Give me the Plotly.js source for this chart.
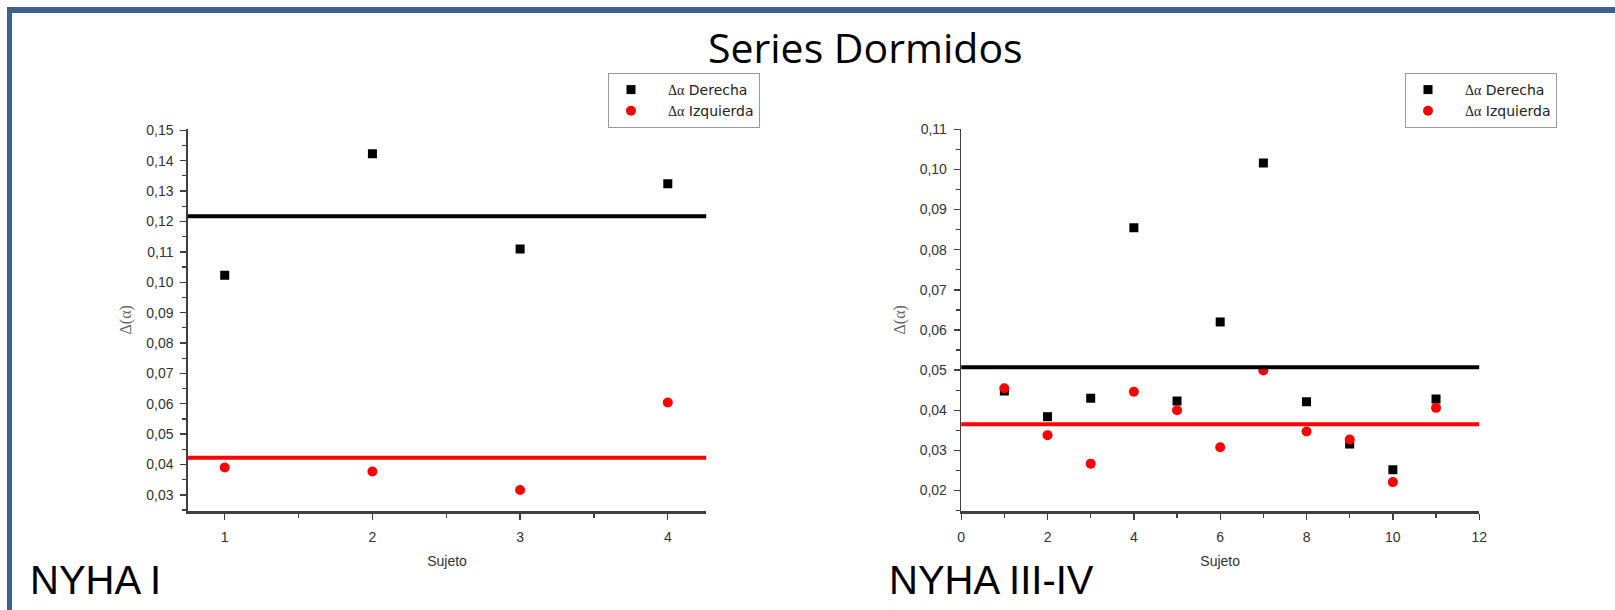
<!DOCTYPE html>
<html>
<head>
<meta charset="utf-8">
<script src="https://cdn.plot.ly/plotly-3.0.1.min.js"></script>
<style>
  html, body { margin: 0; padding: 0; background: #ffffff; }
  #chart { width: 1615px; height: 610px; }
</style>
</head>
<body>
<div id="chart"></div>
<script>
// ---- Data ----
const chartTitle = "Series Dormidos";
const panelLabels = ["NYHA I", "NYHA III-IV"];
const seriesNames = ["Δα Derecha", "Δα Izquierda"];
const xAxisTitle = "Sujeto";
const yAxisTitle = "Δ(α)";

const subjectsI = [1, 2, 3, 4];
const derechaI = [0.1023, 0.1423, 0.1109, 0.1324];
const izquierdaI = [0.0390, 0.0377, 0.0316, 0.0604];
const meanDerechaI = 0.1217;
const meanIzquierdaI = 0.0422;

const subjectsIII = [1, 2, 3, 4, 5, 6, 7, 8, 9, 10, 11];
const derechaIII = [0.0448, 0.0384, 0.0430, 0.0855, 0.0423, 0.0620, 0.1016, 0.0421, 0.0316, 0.0252, 0.0428];
const izquierdaIII = [0.0455, 0.0338, 0.0267, 0.0446, 0.0400, 0.0308, 0.0499, 0.0347, 0.0327, 0.0221, 0.0406];
const meanDerechaIII = 0.0507;
const meanIzquierdaIII = 0.0365;

// ---- Styling ----
const W = 1615, H = 610;
const px = v => v / W;
const py = v => 1 - v / H;
const BLACK = "#000000";
const RED = "#ff0000";
const AXIS = "#404040";
const FRAME = "#3d6191";

function legendName(name) {
  const parts = name.split(" ");
  return '<span style="font-family:\'Liberation Serif\', serif">' + parts[0] + '</span> ' + parts.slice(1).join(" ");
}

const sqMarker = { symbol: "square", size: 9, color: BLACK };
const ciMarker = { symbol: "circle", size: 10, color: RED };

const traces = [
  { x: subjectsI, y: derechaI, type: "scatter", mode: "markers", marker: sqMarker,
    name: legendName(seriesNames[0]), xaxis: "x", yaxis: "y", legend: "legend" },
  { x: subjectsI, y: izquierdaI, type: "scatter", mode: "markers", marker: ciMarker,
    name: legendName(seriesNames[1]), xaxis: "x", yaxis: "y", legend: "legend" },
  { x: subjectsIII, y: derechaIII, type: "scatter", mode: "markers", marker: sqMarker,
    name: legendName(seriesNames[0]), xaxis: "x2", yaxis: "y2", legend: "legend2" },
  { x: subjectsIII, y: izquierdaIII, type: "scatter", mode: "markers", marker: ciMarker,
    name: legendName(seriesNames[1]), xaxis: "x2", yaxis: "y2", legend: "legend2" }
];

const tickFont = { family: "Liberation Sans, Arial, sans-serif", size: 14, color: "#333333" };
const xTitleFont = { family: "Liberation Sans, Arial, sans-serif", size: 14, color: "#333333" };
const yTitleFont = { family: "Liberation Serif, Times New Roman, serif", size: 16, color: "#666666" };

function xAxis(domain, range, dtick, minorDtick, anchor) {
  return {
    domain: domain, range: range, anchor: anchor,
    showgrid: false, zeroline: false, showline: true, linecolor: AXIS, linewidth: 2.5,
    ticks: "outside", ticklen: 6, tickwidth: 1.3, tickcolor: AXIS, dtick: dtick, tick0: 0,
    ticklabelstandoff: 6,
    minor: { ticks: "outside", ticklen: 4, tickwidth: 1.2, tickcolor: AXIS, dtick: minorDtick, tick0: 0 },
    tickfont: tickFont,
    title: { text: xAxisTitle, font: xTitleFont, standoff: 12 }
  };
}
function yAxis(domain, range, anchor) {
  return {
    domain: domain, range: range, anchor: anchor,
    showgrid: false, zeroline: false, showline: true, linecolor: AXIS, linewidth: 1.5,
    ticks: "outside", ticklen: 6, tickwidth: 1.3, tickcolor: AXIS, dtick: 0.01, tick0: 0,
    tickformat: ".2f", ticklabelstandoff: 4,
    minor: { ticks: "outside", ticklen: 4, tickwidth: 1.2, tickcolor: AXIS, dtick: 0.005, tick0: 0 },
    tickfont: tickFont,
    title: { text: yAxisTitle, font: yTitleFont, standoff: 10 }
  };
}

const yDomain = [py(511), py(128.5)];

function meanLine(xref, yref, value, color, width) {
  return { type: "line", xref: xref + " domain", yref: yref, x0: 0, x1: 1, y0: value, y1: value,
           line: { color: color, width: width }, layer: "above" };
}

const legendStyle = {
  bgcolor: "#ffffff", bordercolor: "#9a9a9a", borderwidth: 1,
  font: { family: "DejaVu Sans, Verdana, sans-serif", size: 14, color: "#222222" },
  xanchor: "left", yanchor: "top", indentation: -15, tracegroupgap: 0, itemwidth: 64
};

const layout = {
  width: W, height: H,
  margin: { l: 0, r: 0, t: 0, b: 0 },
  paper_bgcolor: "#ffffff", plot_bgcolor: "#ffffff",
  separators: ", ",
  showlegend: true,
  xaxis: xAxis([px(187.8), px(706.2)], [0.75, 4.26], 1, 0.5, "y"),
  yaxis: yAxis(yDomain, [0.0247, 0.1506], "x"),
  xaxis2: xAxis([px(961.2), px(1479.2)], [0, 12], 2, 1, "y2"),
  yaxis2: yAxis(yDomain, [0.0149, 0.1102], "x2"),
  legend: Object.assign({}, legendStyle, { x: px(608), y: py(73) }),
  legend2: Object.assign({}, legendStyle, { x: px(1405), y: py(73) }),
  shapes: [
    meanLine("x", "y", meanDerechaI, BLACK, 4),
    meanLine("x", "y", meanIzquierdaI, RED, 4),
    meanLine("x2", "y2", meanDerechaIII, BLACK, 4),
    meanLine("x2", "y2", meanIzquierdaIII, RED, 4),
    // slide frame
    { type: "rect", xref: "paper", yref: "paper", x0: px(7), x1: 1.01, y0: py(13), y1: py(7),
      fillcolor: FRAME, line: { width: 0 }, layer: "above" },
    { type: "rect", xref: "paper", yref: "paper", x0: px(7), x1: px(12), y0: -0.01, y1: py(7),
      fillcolor: FRAME, line: { width: 0 }, layer: "above" }
  ],
  annotations: [
    { text: chartTitle, xref: "paper", yref: "paper", x: px(865), y: py(47), xanchor: "center", yanchor: "middle",
      showarrow: false, font: { family: "Open Sans, sans-serif", size: 41, color: "#000000" } },
    { text: panelLabels[0], xref: "paper", yref: "paper", x: px(28), y: py(580), xanchor: "left", yanchor: "middle",
      showarrow: false, font: { family: "Liberation Sans, Arial, sans-serif", size: 40, color: "#000000" } },
    { text: panelLabels[1], xref: "paper", yref: "paper", x: px(887), y: py(580), xanchor: "left", yanchor: "middle",
      showarrow: false, font: { family: "Liberation Sans, Arial, sans-serif", size: 40, color: "#000000" } }
  ]
};

Plotly.newPlot("chart", traces, layout, { displayModeBar: false, staticPlot: true });
</script>
</body>
</html>
